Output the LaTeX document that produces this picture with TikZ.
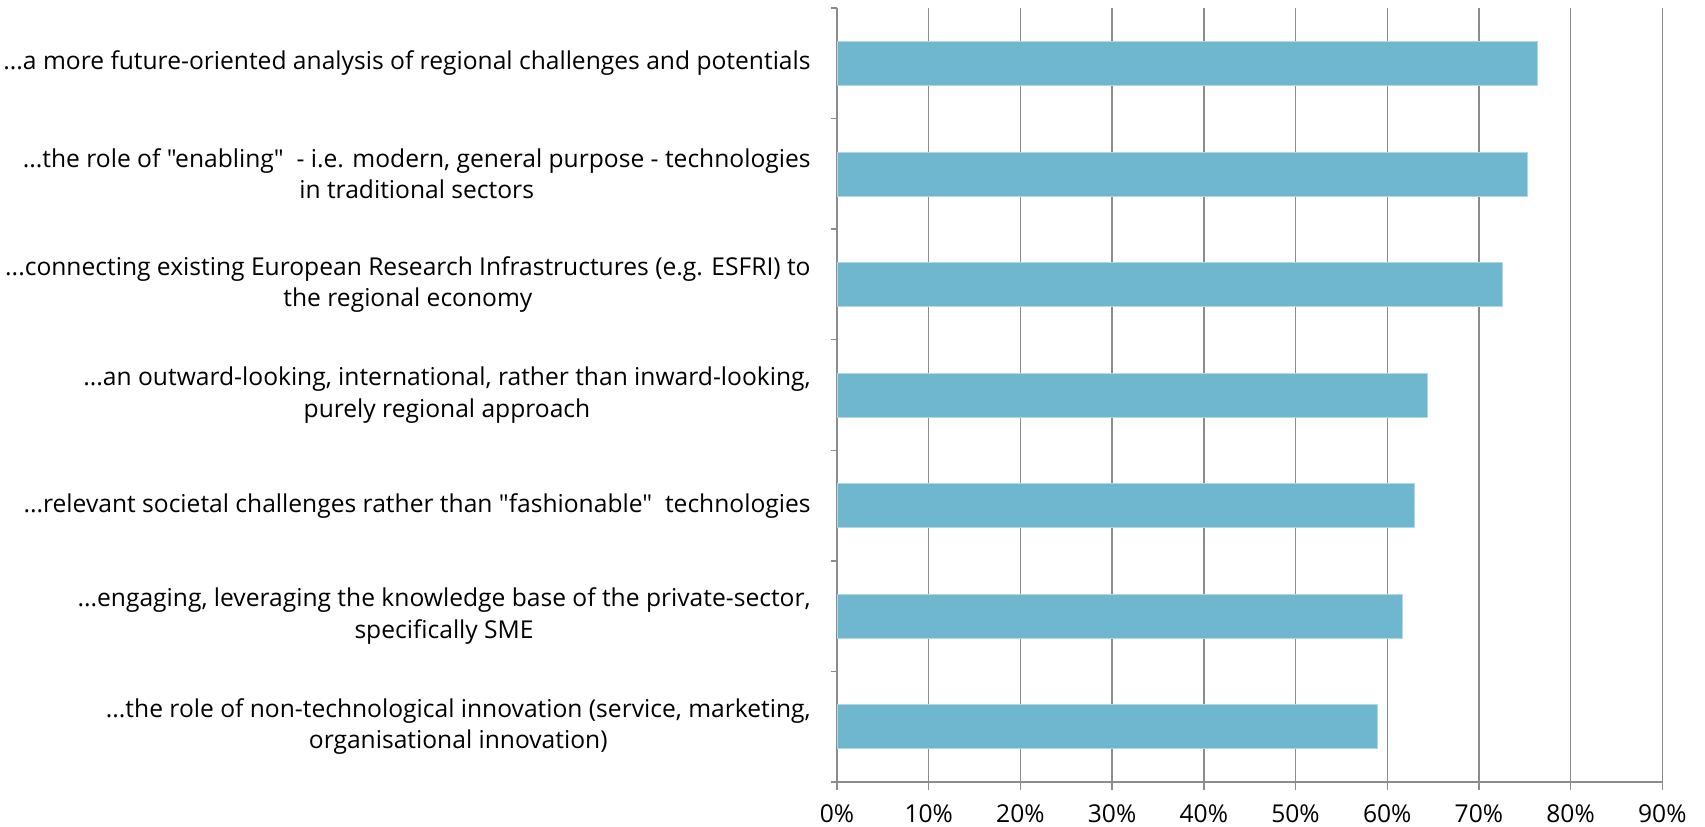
\documentclass[tikz,border=0pt]{standalone}
\usepackage{fontspec}
\setmainfont{Open Sans}[Ligatures={NoCommon,TeXOff}]
\usepackage{tikz}
\definecolor{barblue}{RGB}{111,182,207}
\definecolor{gridgray}{RGB}{140,140,140}
\newcommand{\aspas}{\symbol{34}}
\tikzstyle{texto}=[inner sep=0pt,font=\fontsize{12.3}{15.8}\selectfont]
\tikzstyle{rotulo}=[texto,anchor=east,align=center]
\tikzstyle{barra}=[fill=barblue,draw=barblue!55!white,line width=0.4pt]
\tikzstyle{grade}=[draw=gridgray,line width=0.7pt]

\begin{document}
\begin{tikzpicture}[x=0.5pt,y=-0.5pt]
    \useasboundingbox (0,0) rectangle (1705,826);
    % grid and axes
    \foreach \i in {1,...,9}
        \draw [grade] (837+91.7*\i,8) -- (837+91.7*\i,790);
    \foreach \k in {0,...,6}
        \draw [grade] (831,8+110.57*\k) -- (837,8+110.57*\k);
    \draw [grade] (837,8) -- (837,790);
    \draw [grade] (831,782) -- (1662,782);
    \foreach \i in {0,...,9}
        \node [texto] (p\i) at (837+91.7*\i,814) {\the\numexpr\i*10\relax\%};
    % bars
    \draw [barra] (837,41.3) rectangle (1537.6,85.3);
    \draw [barra] (837,151.9) rectangle (1527.5,195.9);
    \draw [barra] (837,262.4) rectangle (1502.7,306.4);
    \draw [barra] (837,373.0) rectangle (1427.6,417.0);
    \draw [barra] (837,483.6) rectangle (1414.7,527.6);
    \draw [barra] (837,594.2) rectangle (1401.9,638.2);
    \draw [barra] (837,704.7) rectangle (1377.1,748.7);
    % labels
    \node [rotulo] (l1) at (811,63.3) {...a more future-oriented analysis of regional challenges and potentials};
    \node [rotulo] (l2) at (811,173.9) {...the role of \aspas enabling\aspas\ \ - i.e. modern, general purpose - technologies\\in traditional sectors};
    \node [rotulo] (l3) at (811,284.4) {...connecting existing European Research Infrastructures (e.g. ESFRI) to\\the regional economy};
    \node [rotulo] (l4) at (811,395.0) {...an outward-looking, international, rather than inward-looking,\\purely regional approach};
    \node [rotulo] (l5) at (811,505.6) {...relevant societal challenges rather than \aspas fashionable\aspas\ \ technologies};
    \node [rotulo] (l6) at (811,616.2) {...engaging, leveraging the knowledge base of the private-sector,\\specifically SME};
    \node [rotulo] (l7) at (811,726.7) {...the role of non-technological innovation (service, marketing,\\organisational innovation)};
\end{tikzpicture}
\end{document}
